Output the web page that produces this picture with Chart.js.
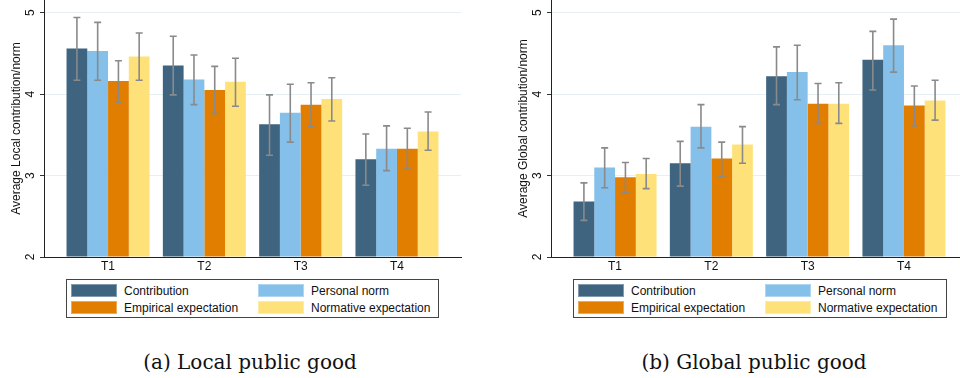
<!DOCTYPE html>
<html>
<head>
<meta charset="utf-8">
<script src="https://cdn.jsdelivr.net/npm/chart.js@4.4.1/dist/chart.umd.min.js"></script>
<style>
  html, body { margin: 0; padding: 0; background: #fff; width: 960px; height: 378px; overflow: hidden; }
  #wrap { position: relative; width: 960px; height: 378px; overflow: hidden; }
  canvas { position: absolute; top: 0; }
  .legend { position: absolute; top: 279px; height: 37px; border: 1px solid #444; box-sizing: content-box;
            font-family: "Liberation Sans", Arial, sans-serif; font-size: 12px; color: #111; }
  .sw { position: absolute; width: 46px; height: 12px; box-sizing: border-box; border: 1px solid rgba(255,255,255,0.35); }
  .lt { position: absolute; line-height: 14px; white-space: nowrap; }
  .cap { position: absolute; top: 350px; width: 500px; text-align: center;
         font-family: "DejaVu Serif", serif; font-size: 20px; line-height: 24px; color: #111; }
</style>
</head>
<body>
<div id="wrap">
  <canvas id="cLocal" width="480" height="275" style="left:0px"></canvas>
  <canvas id="cGlobal" width="480" height="275" style="left:507px"></canvas>
  <div class="legend" id="legLocal" style="left:66px; width:371px;"></div>
  <div class="legend" id="legGlobal" style="left:573px; width:372px;"></div>
  <div class="cap" style="left:0px;">(a) Local public good</div>
  <div class="cap" style="left:504px;">(b) Global public good</div>
</div>
<script>
// ---- Data ----
const categories = ['T1', 'T2', 'T3', 'T4'];
const seriesNames = ['Contribution', 'Personal norm', 'Empirical expectation', 'Normative expectation'];
const yTicks = [2, 3, 4, 5];

// Local public good
const localContribution   = [4.56, 4.35, 3.63, 3.20];
const localContributionLo = [4.17, 3.99, 3.25, 2.88];
const localContributionHi = [4.94, 4.71, 3.99, 3.51];
const localPersonal   = [4.53, 4.18, 3.77, 3.33];
const localPersonalLo = [4.17, 3.87, 3.41, 3.06];
const localPersonalHi = [4.88, 4.48, 4.12, 3.61];
const localEmpirical   = [4.16, 4.05, 3.87, 3.33];
const localEmpiricalLo = [3.90, 3.76, 3.60, 3.08];
const localEmpiricalHi = [4.41, 4.34, 4.14, 3.58];
const localNormative   = [4.46, 4.15, 3.94, 3.54];
const localNormativeLo = [4.17, 3.85, 3.67, 3.31];
const localNormativeHi = [4.75, 4.44, 4.20, 3.78];

// Global public good
const globalContribution   = [2.68, 3.15, 4.22, 4.42];
const globalContributionLo = [2.45, 2.87, 3.87, 4.05];
const globalContributionHi = [2.91, 3.42, 4.58, 4.77];
const globalPersonal   = [3.10, 3.60, 4.27, 4.60];
const globalPersonalLo = [2.85, 3.34, 3.93, 4.27];
const globalPersonalHi = [3.34, 3.87, 4.60, 4.92];
const globalEmpirical   = [2.98, 3.21, 3.88, 3.86];
const globalEmpiricalLo = [2.79, 2.99, 3.64, 3.61];
const globalEmpiricalHi = [3.16, 3.41, 4.13, 4.10];
const globalNormative   = [3.02, 3.38, 3.88, 3.92];
const globalNormativeLo = [2.84, 3.15, 3.64, 3.68];
const globalNormativeHi = [3.21, 3.60, 4.14, 4.17];

const colors = ['#3e6480', '#84c0e9', '#e17e00', '#ffe17a'];
const FONT = '"Liberation Sans", Arial, sans-serif';

const errorBarPlugin = {
  id: 'errorBars',
  afterDatasetsDraw(chart) {
    const ctx = chart.ctx;
    const yScale = chart.scales.y;
    ctx.save();
    ctx.strokeStyle = '#8a8a8a';
    ctx.lineWidth = 1.6;
    chart.data.datasets.forEach((ds, i) => {
      const meta = chart.getDatasetMeta(i);
      meta.data.forEach((el, j) => {
        const x = el.x;
        const yl = yScale.getPixelForValue(ds.errLo[j]);
        const yh = yScale.getPixelForValue(ds.errHi[j]);
        ctx.beginPath();
        ctx.moveTo(x, yl); ctx.lineTo(x, yh);
        ctx.moveTo(x - 3.5, yl); ctx.lineTo(x + 3.5, yl);
        ctx.moveTo(x - 3.5, yh); ctx.lineTo(x + 3.5, yh);
        ctx.stroke();
      });
    });
    ctx.restore();
  }
};

function makeChart(id, title, series) {
  const datasets = series.map((s, i) => ({
    label: seriesNames[i],
    data: s.v.map((v, j) => ({ x: j + 1, y: v })),
    errLo: s.lo,
    errHi: s.hi,
    backgroundColor: colors[i],
    borderWidth: 0,
    base: 2,
    categoryPercentage: 0.862,
    barPercentage: 1.0
  }));
  return new Chart(document.getElementById(id), {
    type: 'bar',
    data: { datasets },
    options: {
      responsive: false,
      animation: false,
      devicePixelRatio: 1,
      layout: { padding: { left: 0, right: 19, top: 0, bottom: 0 } },
      plugins: { legend: { display: false }, tooltip: { enabled: false } },
      scales: {
        x: {
          type: 'linear',
          min: 0.335,
          max: 4.665,
          offset: false,
          grid: { display: false, drawTicks: false },
          border: { display: true, color: '#222', width: 1 },
          ticks: {
            padding: 2,
            color: '#111',
            font: { family: FONT, size: 12 },
            callback: (v) => categories[v - 1]
          },
          afterBuildTicks: (scale) => { scale.ticks = categories.map((c, j) => ({ value: j + 1 })); },
          afterFit: (scale) => { scale.height = 18; scale.paddingLeft = 0; scale.paddingRight = 0; }
        },
        y: {
          min: 2,
          max: 5.155,
          grid: {
            color: (c) => (c.tick && c.tick.value === 2) ? 'rgba(0,0,0,0)' : '#e6eff1',
            tickColor: '#333',
            tickLength: 4,
            lineWidth: 1
          },
          border: { display: true, color: '#222', width: 1 },
          ticks: {
            minRotation: 90,
            maxRotation: 90,
            crossAlign: 'center',
            padding: 6,
            color: '#111',
            font: { family: FONT, size: 12 }
          },
          title: {
            display: true,
            text: title,
            color: '#111',
            font: { family: FONT, size: 12 },
            padding: { top: 9, bottom: 0 }
          },
          afterBuildTicks: (scale) => { scale.ticks = yTicks.map(v => ({ value: v })); },
          afterFit: (scale) => { scale.width = 44; scale.paddingTop = 0; scale.paddingBottom = 0; }
        }
      }
    },
    plugins: [errorBarPlugin]
  });
}

makeChart('cLocal', 'Average Local contribution/norm', [
  { v: localContribution, lo: localContributionLo, hi: localContributionHi },
  { v: localPersonal, lo: localPersonalLo, hi: localPersonalHi },
  { v: localEmpirical, lo: localEmpiricalLo, hi: localEmpiricalHi },
  { v: localNormative, lo: localNormativeLo, hi: localNormativeHi }
]);
makeChart('cGlobal', 'Average Global contribution/norm', [
  { v: globalContribution, lo: globalContributionLo, hi: globalContributionHi },
  { v: globalPersonal, lo: globalPersonalLo, hi: globalPersonalHi },
  { v: globalEmpirical, lo: globalEmpiricalLo, hi: globalEmpiricalHi },
  { v: globalNormative, lo: globalNormativeLo, hi: globalNormativeHi }
]);

function buildLegend(id) {
  const box = document.getElementById(id);
  const pos = [
    { sx: 4, tx: 57, top: 4 },
    { sx: 191, tx: 244, top: 4 },
    { sx: 4, tx: 57, top: 21 },
    { sx: 191, tx: 244, top: 21 }
  ];
  seriesNames.forEach((name, i) => {
    const p = pos[i];
    const sw = document.createElement('div');
    sw.className = 'sw';
    sw.style.left = p.sx + 'px';
    sw.style.top = p.top + 'px';
    sw.style.height = '13px';
    sw.style.background = colors[i];
    box.appendChild(sw);
    const t = document.createElement('div');
    t.className = 'lt';
    t.style.left = p.tx + 'px';
    t.style.top = (p.top - 0.5) + 'px';
    t.textContent = name;
    box.appendChild(t);
  });
}
buildLegend('legLocal');
buildLegend('legGlobal');
</script>
</body>
</html>
